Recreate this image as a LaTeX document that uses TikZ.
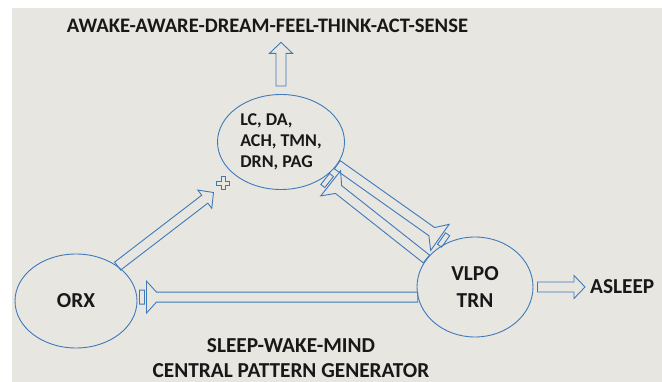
\documentclass[tikz,border=0pt]{standalone}
\usepackage{fontspec}
\setmainfont{Carlito}
\usetikzlibrary{calc,shapes.geometric}
\definecolor{paper}{RGB}{232,230,225}
\definecolor{ink}{RGB}{62,122,185}
\definecolor{txt}{RGB}{24,24,24}
\tikzset{
  heading/.style={text=txt,font=\bfseries\fontsize{21.3}{24.5}\selectfont,inner sep=0pt},
  cell/.style={ellipse,draw=ink,line width=0.9pt,inner sep=0pt,text=txt,
    font=\bfseries\fontsize{21.3}{26.5}\selectfont,align=center},
  excite/.style={draw=ink,line width=0.9pt,to path={
    ($(\tikztostart)!5pt!90:(\tikztotarget)$)
    -- ($(\tikztotarget)!11pt!(\tikztostart)!5pt!90:(\tikztotarget)$)
    -- ($(\tikztotarget)!11pt!(\tikztostart)!11.5pt!90:(\tikztotarget)$)
    -- (\tikztotarget)
    -- ($(\tikztotarget)!11pt!(\tikztostart)!11.5pt!-90:(\tikztotarget)$)
    -- ($(\tikztotarget)!11pt!(\tikztostart)!5pt!-90:(\tikztotarget)$)
    -- ($(\tikztostart)!5pt!-90:(\tikztotarget)$) -- cycle}},
  inhibit/.style={draw=ink,line width=0.9pt,to path={
    ($(\tikztostart)!5pt!90:(\tikztotarget)$)
    -- ($(\tikztotarget)!19pt!(\tikztostart)!5pt!90:(\tikztotarget)$)
    -- ($(\tikztotarget)!9pt!(\tikztostart)!16pt!90:(\tikztotarget)$)
    -- ($(\tikztotarget)!9pt!(\tikztostart)!16pt!-90:(\tikztotarget)$)
    -- ($(\tikztotarget)!19pt!(\tikztostart)!5pt!-90:(\tikztotarget)$)
    -- ($(\tikztostart)!5pt!-90:(\tikztotarget)$) -- cycle
    ($(\tikztotarget)!7pt!(\tikztostart)!7pt!90:(\tikztotarget)$)
    -- ($(\tikztotarget)!2pt!(\tikztostart)!7pt!90:(\tikztotarget)$)
    -- ($(\tikztotarget)!2pt!(\tikztostart)!7pt!-90:(\tikztotarget)$)
    -- ($(\tikztotarget)!7pt!(\tikztostart)!7pt!-90:(\tikztotarget)$) -- cycle}},
}

\begin{document}
\begin{tikzpicture}[x=1pt,y=-1pt]
  \useasboundingbox (0,0) rectangle (662,382);
  \fill[white] (0,0) rectangle (662,382);
  \fill[paper] (12,8) rectangle (662,382);

  \node[heading,anchor=base,inner ysep=9pt,font=\bfseries\fontsize{20.6}{24}\selectfont]
    (awake) at (267.5,33) {AWAKE-AWARE-DREAM-FEEL-THINK-ACT-SENSE};
  \node[cell,minimum width=127pt,minimum height=95pt,align=left,
    font=\bfseries\fontsize{18}{21}\selectfont] (top) at (281,142) {LC, DA,\\ACH, TMN,\\DRN, PAG};
  \node[cell,minimum width=122pt,minimum height=94pt] (orx) at (76,301) {ORX};
  \node[cell,minimum width=116pt,minimum height=100pt] (vlpo) at (475,287) {VLPO\\TRN};
  \node[heading,anchor=west,inner xsep=5pt] (asleep) at (585,287) {ASLEEP};
  \node[heading,align=center] (cpg) at (291,358) {SLEEP-WAKE-MIND\\CENTRAL PATTERN GENERATOR};
  \node[minimum size=13pt,inner sep=0pt,outer sep=3pt] (plus) at (223,183) {};
  \coordinate (orxin) at (orx.east |- vlpo.190);

  \draw[ink,line width=0.9pt] ($(plus)+(-2,-6.5)$) -- ++(4,0) -- ++(0,4.5) -- ++(4.5,0) -- ++(0,4)
    -- ++(-4.5,0) -- ++(0,4.5) -- ++(-4,0) -- ++(0,-4.5) -- ++(-4.5,0) -- ++(0,-4) -- ++(4.5,0) -- cycle;

  \draw[excite] ($(top.north)+(0,-8)$) to (top.north |- awake.south);
  \draw[excite] (orx.40) to (plus.225);
  \draw[excite] ($(vlpo.east)+(4,0)$) to (asleep.west);
  \draw[inhibit] (top.-22) to (vlpo.122);
  \draw[inhibit] (vlpo.150) to (top.-40);
  \draw[inhibit] (vlpo.190) to (orxin);
\end{tikzpicture}
\end{document}
